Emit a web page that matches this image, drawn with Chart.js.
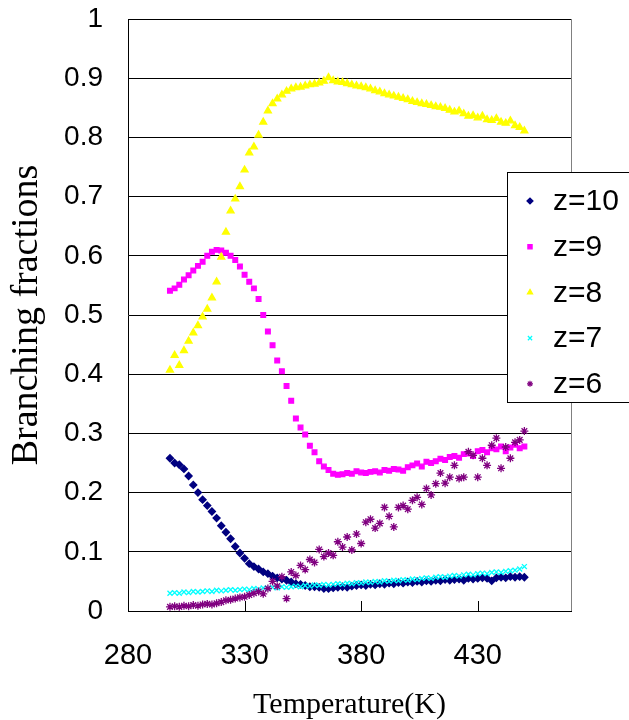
<!DOCTYPE html>
<html>
<head>
<meta charset="utf-8">
<script src="https://cdn.jsdelivr.net/npm/chart.js@4.4.1/dist/chart.umd.min.js"></script>
<style>
  html, body { margin: 0; padding: 0; background: #fff; }
</style>
</head>
<body>
<canvas id="chart" width="629" height="720"></canvas>
<script>
// Temperature (K) of each measurement
const temps = [
  298, 300, 302, 304, 306, 308, 310, 312, 314, 316, 318, 320, 322, 324, 326, 328,
  330, 332, 334, 336, 338, 340, 342, 344, 346, 348, 350, 352, 354, 356, 358, 360,
  362, 364, 366, 368, 370, 372, 374, 376, 378, 380, 382, 384, 386, 388, 390, 392,
  394, 396, 398, 400, 402, 404, 406, 408, 410, 412, 414, 416, 418, 420, 422, 424,
  426, 428, 430, 432, 434, 436, 438, 440, 442, 444, 446, 448, 450
];

const z10 = [
  0.258, 0.250, 0.247, 0.240, 0.228, 0.213, 0.200, 0.188, 0.178, 0.168, 0.157, 0.144, 0.133, 0.122, 0.109, 0.098,
  0.089, 0.080, 0.075, 0.071, 0.066, 0.063, 0.059, 0.056, 0.054, 0.052, 0.049, 0.046, 0.045, 0.043, 0.041, 0.041,
  0.040, 0.038, 0.038, 0.039, 0.040, 0.041, 0.040, 0.042, 0.043, 0.044, 0.043, 0.045, 0.044, 0.046, 0.045, 0.047,
  0.046, 0.048, 0.047, 0.049, 0.048, 0.050, 0.049, 0.051, 0.050, 0.052, 0.051, 0.053, 0.052, 0.053, 0.054, 0.052,
  0.055, 0.054, 0.055, 0.056, 0.055, 0.051, 0.056, 0.057, 0.056, 0.058, 0.057, 0.058, 0.057
];

const z9 = [
  0.541, 0.545, 0.551, 0.560, 0.567, 0.575, 0.583, 0.590, 0.600, 0.607, 0.610, 0.609, 0.605, 0.600, 0.593, 0.582,
  0.568, 0.556, 0.545, 0.527, 0.500, 0.472, 0.449, 0.423, 0.405, 0.380, 0.355, 0.325, 0.310, 0.298, 0.279, 0.268,
  0.253, 0.244, 0.238, 0.232, 0.230, 0.231, 0.233, 0.232, 0.236, 0.234, 0.233, 0.235, 0.236, 0.234, 0.238, 0.237,
  0.240, 0.239, 0.237, 0.243, 0.246, 0.249, 0.244, 0.252, 0.250, 0.253, 0.257, 0.255, 0.260, 0.262, 0.259, 0.265,
  0.266, 0.262, 0.270, 0.272, 0.268, 0.275, 0.273, 0.278, 0.270, 0.276, 0.281, 0.275, 0.278
];

const z8 = [
  0.407, 0.432, 0.415, 0.440, 0.456, 0.470, 0.482, 0.497, 0.510, 0.529, 0.556, 0.598, 0.640, 0.676, 0.696, 0.717,
  0.745, 0.774, 0.784, 0.804, 0.826, 0.845, 0.857, 0.865, 0.872, 0.878, 0.882, 0.884, 0.885, 0.887, 0.889, 0.890,
  0.892, 0.895, 0.901, 0.896, 0.894, 0.893, 0.891, 0.889, 0.887, 0.886, 0.884, 0.882, 0.879, 0.877, 0.874, 0.872,
  0.870, 0.868, 0.866, 0.864, 0.861, 0.859, 0.857, 0.856, 0.854, 0.852, 0.851, 0.849, 0.846, 0.843, 0.845, 0.840,
  0.836, 0.837, 0.833, 0.836, 0.830, 0.829, 0.832, 0.826, 0.824, 0.828, 0.820, 0.817, 0.811
];

const z7 = [
  0.030, 0.031, 0.030, 0.032, 0.031, 0.033, 0.032, 0.033, 0.034, 0.033, 0.035, 0.034, 0.035, 0.036, 0.035, 0.036,
  0.037, 0.036, 0.038, 0.037, 0.039, 0.038, 0.040, 0.039, 0.041, 0.040, 0.041, 0.042, 0.041, 0.043, 0.042, 0.044,
  0.043, 0.045, 0.044, 0.045, 0.046, 0.045, 0.047, 0.046, 0.048, 0.047, 0.049, 0.048, 0.050, 0.049, 0.051, 0.050,
  0.052, 0.051, 0.053, 0.052, 0.054, 0.053, 0.055, 0.056, 0.055, 0.057, 0.058, 0.057, 0.059, 0.060, 0.059, 0.061,
  0.062, 0.061, 0.063, 0.064, 0.063, 0.065, 0.066, 0.065, 0.067, 0.068, 0.069, 0.071, 0.075
];

const z6 = [
  0.007, 0.008, 0.007, 0.009, 0.008, 0.010, 0.009, 0.011, 0.012, 0.011, 0.013, 0.015, 0.018, 0.019, 0.021, 0.023,
  0.024, 0.027, 0.030, 0.033, 0.029, 0.038, 0.050, 0.042, 0.058, 0.021, 0.066, 0.060, 0.077, 0.070, 0.087, 0.082,
  0.104, 0.092, 0.098, 0.094, 0.117, 0.108, 0.125, 0.103, 0.130, 0.114, 0.150, 0.155, 0.140, 0.148, 0.175, 0.160,
  0.142, 0.175, 0.178, 0.172, 0.187, 0.192, 0.180, 0.207, 0.196, 0.215, 0.233, 0.216, 0.226, 0.246, 0.224, 0.226,
  0.269, 0.263, 0.226, 0.258, 0.246, 0.280, 0.292, 0.241, 0.277, 0.258, 0.285, 0.289, 0.304
];

const xTicks = [280, 330, 380, 430];
const yTicks = [0, 0.1, 0.2, 0.3, 0.4, 0.5, 0.6, 0.7, 0.8, 0.9, 1];

const SERIES = [
  { label: 'z=10', data: z10, color: '#000080', style: 'rectRot',  radius: 3.5 },
  { label: 'z=9',  data: z9,  color: '#FF00FF', style: 'rect',     radius: 3.3 },
  { label: 'z=8',  data: z8,  color: '#FFFF00', style: 'triangle', radius: 4 },
  { label: 'z=7',  data: z7,  color: '#00FFFF', style: 'crossRot', radius: 3.5 },
  { label: 'z=6',  data: z6,  color: '#800080', style: 'star',     radius: 4 }
];

// right border of the plot and the inward x tick marks
const framePlugin = {
  id: 'frame',
  beforeDatasetsDraw(chart) {
    const { ctx, chartArea: a, scales: { x } } = chart;
    ctx.save();
    ctx.lineWidth = 1;
    ctx.strokeStyle = '#808080';
    ctx.beginPath();
    ctx.moveTo(a.right + 0.5, a.top);
    ctx.lineTo(a.right + 0.5, a.bottom);
    ctx.stroke();
    ctx.strokeStyle = '#000';
    ctx.beginPath();
    xTicks.slice(1).forEach(v => {
      const px = Math.round(x.getPixelForValue(v)) + 0.5;
      ctx.moveTo(px, a.bottom);
      ctx.lineTo(px, a.bottom - 10);
    });
    ctx.stroke();
    ctx.restore();
  }
};

// boxed legend sitting over the right edge of the plot, like the original
const boxLegend = {
  id: 'boxLegend',
  afterDraw(chart) {
    const { ctx } = chart;
    const left = 507, top = 172, w = 140, h = 230;
    ctx.save();
    ctx.fillStyle = '#fff';
    ctx.fillRect(left, top, w, h);
    ctx.strokeStyle = '#000';
    ctx.lineWidth = 1;
    ctx.strokeRect(left + 0.5, top + 0.5, w, h);
    ctx.font = '30px "Liberation Sans", Arial, sans-serif';
    ctx.textBaseline = 'middle';
    SERIES.forEach((s, i) => {
      const y = top + 29 + i * 45.7;
      ctx.fillStyle = s.color;
      ctx.strokeStyle = s.color;
      ctx.lineWidth = 1.2;
      Chart.helpers.drawPoint(ctx, { pointStyle: s.style, radius: 3, rotation: 0, borderWidth: 1.2 }, left + 23, y);
      ctx.fillStyle = '#000';
      ctx.fillText(s.label, left + 46, y + 1);
    });
    ctx.restore();
  }
};

new Chart(document.getElementById('chart'), {
  type: 'scatter',
  data: {
    datasets: SERIES.map((s, i) => ({
      label: s.label,
      data: temps.map((t, j) => ({ x: t, y: s.data[j] })),
      pointStyle: s.style,
      pointRadius: s.radius,
      pointBackgroundColor: s.color,
      pointBorderColor: s.color,
      pointBorderWidth: 1.3,
      order: SERIES.length - i
    }))
  },
  options: {
    responsive: false,
    animation: false,
    layout: { padding: { top: 19, right: 58, left: 0, bottom: 0 } },
    plugins: {
      legend: { display: false },
      tooltip: { enabled: false }
    },
    scales: {
      x: {
        type: 'linear',
        min: 280,
        max: 470,
        afterBuildTicks: s => { s.ticks = xTicks.map(v => ({ value: v })); },
        afterFit: s => { s.height = 109; },
        grid: { display: false, drawTicks: false },
        border: { display: true, color: '#000', width: 1 },
        ticks: {
          color: '#000',
          padding: 28,
          maxRotation: 0,
          font: { family: '"Liberation Sans", Arial, sans-serif', size: 29 }
        },
        title: {
          display: true,
          text: 'Temperature(K)',
          color: '#000',
          padding: { top: 0, bottom: 0 },
          font: { family: '"Liberation Serif", "Times New Roman", serif', size: 30, lineHeight: 1 }
        }
      },
      y: {
        min: 0,
        max: 1,
        afterBuildTicks: s => { s.ticks = yTicks.map(v => ({ value: v })); },
        afterFit: s => { s.width = 128; },
        // transparent tick marks only make the gap between labels and axis
        grid: { color: '#000', lineWidth: 1, drawTicks: true, tickLength: 25, tickColor: 'rgba(0,0,0,0)' },
        border: { display: true, color: '#000', width: 1 },
        ticks: {
          color: '#000',
          padding: 0,
          callback: v => String(v),
          font: { family: '"Liberation Sans", Arial, sans-serif', size: 28 }
        },
        title: {
          display: true,
          text: 'Branching fractions',
          color: '#000',
          padding: { top: 8, bottom: 0 },
          font: { family: '"Liberation Serif", "Times New Roman", serif', size: 38, lineHeight: 1 }
        }
      }
    }
  },
  plugins: [framePlugin, boxLegend]
});
</script>
</body>
</html>
